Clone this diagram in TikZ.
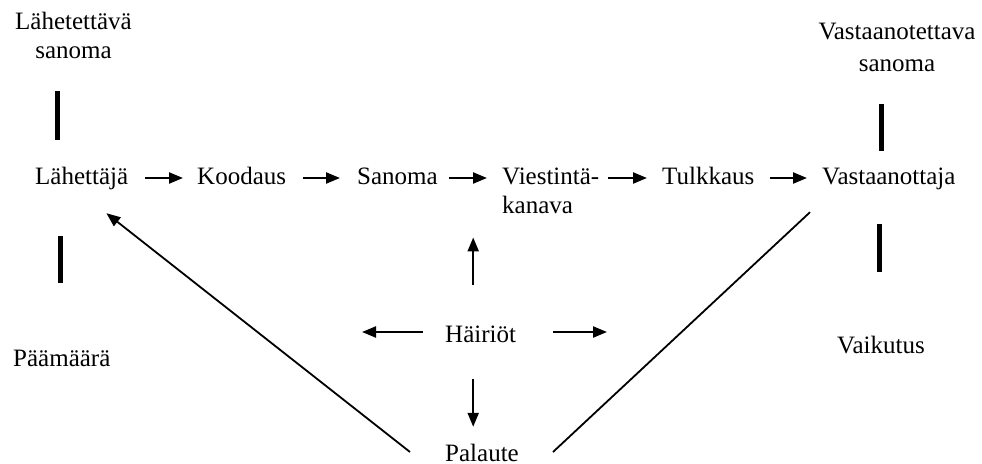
\documentclass[tikz,border=0pt]{standalone}
\usepackage{fontspec}
\setmainfont{Liberation Serif}
\usetikzlibrary{arrows.meta}
\begin{document}
\begin{tikzpicture}[x=1pt,y=1pt,
  lbl/.style={inner sep=0pt, font=\fontsize{25}{30}\selectfont, anchor=base west},
  word/.style={lbl, text height=17pt, text depth=5pt},
  tip/.style={-{Triangle[length=14pt,width=11pt]}},
  arr/.style={line width=2.2pt, tip},
  bar/.style={line width=5pt},
  link/.style={line width=1.8pt}]
\useasboundingbox (0,0) rectangle (982,-463);

% main chain
\node[word] (l) at (35,-184) {Lähettäjä};
\node[word] (k) at (197,-184) {Koodaus};
\node[word] (s) at (357,-184) {Sanoma};
\node[lbl, align=left, font=\fontsize{25}{29}\selectfont] (v) at (502,-213) {Viestintä-\\kanava};
\node[word] (t) at (662,-184) {Tulkkaus};
\node[word] (r) at (822,-184) {Vastaanottaja};

% side labels (base anchor sits on the last line)
\node[lbl, align=center, anchor=base, font=\fontsize{25}{29}\selectfont] (ls) at (73.5,-58) {Lähetettävä\\sanoma};
\node[lbl, align=center, anchor=base, font=\fontsize{25}{32}\selectfont] (vs) at (897,-71) {Vastaanotettava\\sanoma};
\node[word] (pm) at (13,-366) {Päämäärä};
\node[word] (vk) at (837,-353) {Vaikutus};
\node[word] (h) at (445,-342) {Häiriöt};
\node[word, text depth=0pt] (p) at (445,-461) {Palaute};

% chain arrows
\draw[arr, shorten <=17pt, shorten >=14pt] (l) -- (k);
\draw[arr, shorten <=17pt, shorten >=17pt] (k) -- (s);
\draw[arr, shorten <=11pt, shorten >=15pt] (s.east) -- (s.east -| v.west);
\draw[arr, shorten <=9pt, shorten >=15pt] (t.west -| v.east) -- (t.west);
\draw[arr, shorten <=15pt, shorten >=15pt] (t) -- (r);

% thick bars
\draw[bar, shorten <=33pt, shorten >=27pt] ([xshift=-16pt]ls.south) -- ([xshift=-16pt]ls.south |- l.north);
\draw[bar, shorten <=66pt, shorten >=47pt] ([xshift=-1.5pt]pm.north) -- ([xshift=-1.5pt]pm.north |- l.south);
\draw[bar, shorten <=33pt, shorten >=16pt] ([xshift=-15.5pt]vs.south) -- ([xshift=-15.5pt]vs.south |- r.north);
\draw[bar, shorten <=64pt, shorten >=35pt] ([xshift=-1pt]vk.north) -- ([xshift=-1pt]vk.north |- r.south);

% disturbances
\coordinate (hl) at (362,-332);
\coordinate (hr) at (607,-332);
\draw[arr, shorten <=40pt, shorten >=24pt] ([xshift=-7.4pt]h.north) -- ([xshift=-7.4pt]h.north |- v.south);
\draw[arr, shorten <=32pt, shorten >=17pt] ([xshift=-7.4pt]h.south) -- ([xshift=-7.4pt]h.south |- p.north);
\draw[arr, shorten <=22pt] ([yshift=4pt]h.west) -- (hl);
\draw[arr, shorten <=37pt] ([yshift=4pt]h.east) -- (hr);

% feedback lines
\draw[link, tip] ([shift={(-35pt,0.5pt)}]p.west) -- ([shift={(-22pt,-24pt)}]l.south east);
\draw[link] ([shift={(34pt,0.5pt)}]p.east) -- ([shift={(-12pt,-23pt)}]r.south west);
\end{tikzpicture}
\end{document}
